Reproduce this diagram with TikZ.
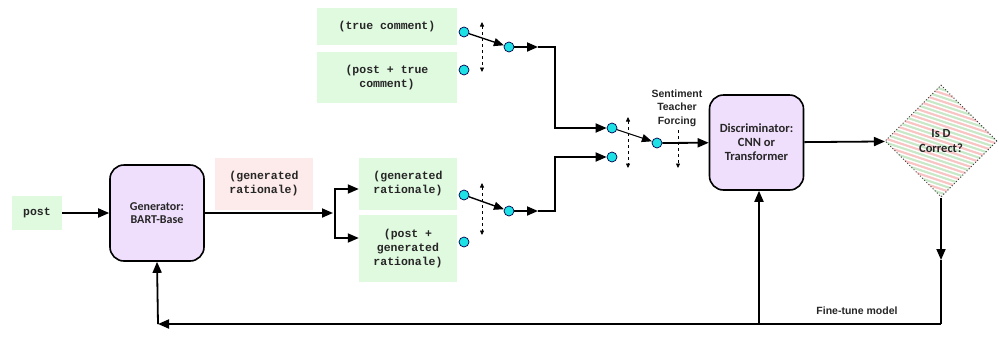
\documentclass[tikz,border=0pt]{standalone}
\usepackage{fontspec}
\setmainfont{Carlito}
\newfontfamily\monof{Liberation Mono}
\newfontfamily\arialf{Liberation Sans}
\usetikzlibrary{arrows.meta,shapes.geometric}
\definecolor{boxgreen}{RGB}{224,250,224}
\definecolor{boxpink}{RGB}{253,234,234}
\definecolor{boxpurple}{RGB}{239,222,252}
\definecolor{dotcyan}{RGB}{30,225,230}
\definecolor{stripepink}{RGB}{248,196,196}
\definecolor{stripegreen}{RGB}{200,232,200}
\begin{document}
\begin{tikzpicture}[x=1pt,y=-1pt,
  textbox/.style={fill=#1, inner sep=0pt, font=\monof\bfseries\fontsize{11.5}{14}\selectfont, align=center, text=black!85},
  model/.style={draw, line width=1.6pt, rounded corners=14pt, fill=boxpurple, minimum width=94pt, minimum height=96pt, align=center, text=black!85},
  arr/.style={-{Triangle[length=11pt,width=9pt]}, line width=1.8pt},
  thinarr/.style={-{Triangle[length=10pt,width=8pt]}, line width=1.4pt},
  dot/.style={circle, draw=black!70!blue, line width=0.7pt, fill=dotcyan, minimum size=10pt, inner sep=0pt},
  dasharr/.style={dashed, line width=0.7pt, {Triangle[length=4.5pt,width=4pt]}-{Triangle[length=4.5pt,width=4pt]}},
  dashdown/.style={dashed, line width=0.7pt, -{Triangle[length=4.5pt,width=4pt]}},
]
\fill[white] (0,0) rectangle (999,341);
\useasboundingbox (0,0) rectangle (999,341);

% input and generator
\node[textbox=boxgreen, minimum width=50pt, minimum height=34pt] (post) at (37,213) {post};
\node[model, font=\bfseries\fontsize{12}{13.5}\selectfont] (gen) at (157,213) {Generator:\\BART-Base};
\node[textbox=boxpink, minimum width=98pt, minimum height=52pt] (glab) at (264,184) {(generated\\rationale)};

% lower text boxes
\node[textbox=boxgreen, minimum width=98pt, minimum height=52pt] (gr) at (408,184) {(generated\\rationale)};
\node[textbox=boxgreen, minimum width=98pt, minimum height=67pt] (pgr) at (408,248.5) {(post +\\generated\\rationale)};

% upper text boxes
\node[textbox=boxgreen, minimum width=140pt, minimum height=37pt] (tc) at (387,26.5) {(true comment)};
\node[textbox=boxgreen, minimum width=140pt, minimum height=51pt] (ptc) at (387,77.5) {(post + true\\comment)};

% switch dots
\node[dot] (c1) at (464,32) {};
\node[dot] (c2) at (464,70) {};
\node[dot] (co1) at (509,47) {};
\node[dot] (c3) at (464,195) {};
\node[dot] (c4) at (464,242) {};
\node[dot] (co2) at (509,211) {};
\node[dot] (d1) at (612,128) {};
\node[dot] (d2) at (612,157) {};
\node[dot] (do) at (657,143) {};

% discriminator and decision
\node[model, minimum height=95pt, font=\bfseries\fontsize{12.5}{14}\selectfont] (disc) at (756.5,142.5) {Discriminator:\\CNN or\\Transformer};
\node[diamond, aspect=1, minimum width=112pt, minimum height=112pt, inner sep=0pt,
  draw=black!75, dotted, line width=1pt, text=black!85,
  font=\bfseries\fontsize{12.5}{14.5}\selectfont, align=center,
  path picture={
    \foreach \k in {-12,...,12}{
      \draw[solid, stripepink, line width=2.2pt] (-90,{8*\k-30}) -- (90,{8*\k+30});
      \draw[solid, stripegreen, line width=2.2pt] (-90,{4+8*\k-30}) -- (90,{4+8*\k+30});
    }
  }] (dia) at (941,141) {Is D\\Correct?};

% labels
\node[font=\arialf\bfseries\fontsize{10.5}{13.5}\selectfont, text=black!85, align=center] (stf) at (677,108) {Sentiment\\Teacher\\Forcing};
\node[font=\arialf\bfseries\fontsize{10.5}{12}\selectfont, text=black!85] (ft) at (857,311) {Fine-tune model};

% coordinates
\coordinate (sp) at (335,213);
\coordinate (t1) at (538,47);
\coordinate (vx1) at (555,128);
\coordinate (b1) at (538,211);
\coordinate (vx2) at (555,157);
\coordinate (m1) at (941,260);
\coordinate (br) at (941,324);
\coordinate (bl) at (158,324);
\coordinate (dm) at (759,324);
\coordinate (ua) at (482,22);
\coordinate (ub) at (482,72);
\coordinate (la) at (482,183);
\coordinate (lb) at (482,235);
\coordinate (ma) at (628,117);
\coordinate (mb) at (628,168);
\coordinate (ra) at (678,130);
\coordinate (rb) at (678,168);

% connectors
\draw[arr] (post) -- (gen);
\draw[arr] (gen.east) -- ([xshift=-2pt]sp);
\draw[arr] ([yshift=-1pt]sp) |- ([yshift=-5pt]gr.west);
\draw[arr] ([yshift=1pt]sp) |- ([yshift=10.5pt]pgr.west);

\draw[thinarr] (c1) -- (co1);
\draw[arr] (co1) -- (t1);
\draw[arr] (t1) -| (vx1) -- (d1);
\draw[thinarr] (c3) -- (co2);
\draw[arr] (co2) -- (b1);
\draw[arr] (b1) -| (vx2) -- (d2);

\draw[thinarr, line width=1pt] (d1) -- (do);
\draw[arr] (do) -- (disc);
\draw[arr] (disc) -- (dia);

\draw[arr] (dia.south) -- (m1);
\draw[line width=1.8pt] (m1) -- (br);
\draw[arr] (br) -- (bl);
\draw[arr] (bl) -- (gen.south);
\draw[arr] (dm) -- (dm |- disc.south);

\draw[dasharr] (ua) -- (ub);
\draw[dasharr] (la) -- (lb);
\draw[dasharr] (ma) -- (mb);
\draw[dashdown] (ra) -- (rb);
\end{tikzpicture}
\end{document}
